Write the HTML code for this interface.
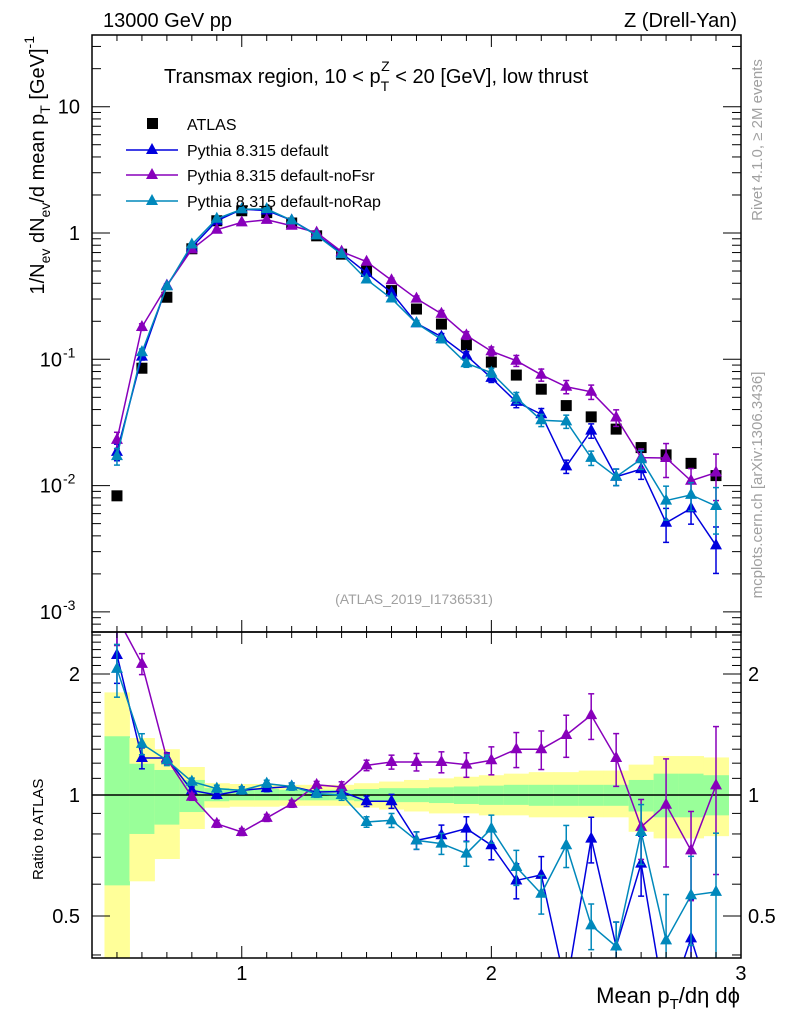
<!DOCTYPE html>
<html><head><meta charset="utf-8"><style>
html,body{margin:0;padding:0;background:#fff;width:786px;height:1024px;overflow:hidden;}
svg{display:block;font-family:"Liberation Sans",sans-serif;}
</style></head><body>
<svg id="chart" width="786" height="1024" viewBox="0 0 786 1024" xmlns="http://www.w3.org/2000/svg">
<defs>
<clipPath id="cm"><rect x="92" y="35" width="649" height="597"/></clipPath>
<clipPath id="cr"><rect x="92" y="632" width="649" height="326"/></clipPath>
</defs>
<g id="bands" clip-path="url(#cr)"></g>
<g id="main"></g>
<g id="ratio"></g>
<g id="axes"></g>
<text x="103" y="27" font-size="20">13000 GeV pp</text>
<text x="737" y="27" font-size="20" text-anchor="end">Z (Drell-Yan)</text>
<text x="164" y="83" font-size="20">Transmax region, 10 &lt; p<tspan font-size="14" dy="8">T</tspan><tspan font-size="14" dx="-8" dy="-20">Z</tspan><tspan dy="12"> &lt; 20 [GeV], low thrust</tspan></text>
<text x="414" y="604" font-size="14" fill="#a0a0a0" text-anchor="middle">(ATLAS_2019_I1736531)</text>
<text transform="translate(762,140) rotate(-90)" font-size="15" fill="#a0a0a0" text-anchor="middle">Rivet 4.1.0, ≥ 2M events</text>
<text transform="translate(762,485) rotate(-90)" font-size="15" fill="#a0a0a0" text-anchor="middle">mcplots.cern.ch [arXiv:1306.3436]</text>
<text transform="translate(44,36) rotate(-90)" font-size="20" text-anchor="end">1/N<tspan font-size="14" dy="6">ev</tspan><tspan dy="-6"> dN</tspan><tspan font-size="14" dy="6">ev</tspan><tspan dy="-6">/d mean p</tspan><tspan font-size="14" dy="6">T</tspan><tspan dy="-6"> [GeV]</tspan><tspan font-size="14" dy="-10">-1</tspan></text>
<text transform="translate(43,880) rotate(-90)" font-size="15">Ratio to ATLAS</text>
<text x="740" y="1003" font-size="22" text-anchor="end">Mean p<tspan font-size="15" dy="6">T</tspan><tspan dy="-6">/dη dϕ</tspan></text>
<g font-size="16">
<rect x="147" y="118" width="11" height="11" fill="#000"/>
<text x="187" y="130">ATLAS</text>
<g id="leg"></g>
</g>
</svg>
<script>
const xs=[0.5,0.6,0.7,0.8,0.9,1.0,1.1,1.2,1.3,1.4,1.5,1.6,1.7,1.8,1.9,2.0,2.1,2.2,2.3,2.4,2.5,2.6,2.7,2.8,2.9];
const atlas=[0.0083,0.085,0.31,0.75,1.25,1.5,1.45,1.2,0.95,0.68,0.5,0.35,0.25,0.19,0.13,0.095,0.075,0.058,0.043,0.035,0.028,0.020,0.0175,0.015,0.012];
const ratioDefault=[2.23,1.236,1.236,1.027,1.0,1.027,1.04,1.05,1.017,1.02,0.965,0.965,0.771,0.794,0.825,0.75,0.613,0.633,0.33,0.779,0.42,0.675,0.29,0.44,0.28];
const ratioNoFsr=[2.77,2.12,1.23,0.99,0.848,0.809,0.877,0.951,1.06,1.047,1.185,1.208,1.208,1.208,1.19,1.22,1.30,1.30,1.41,1.58,1.236,0.833,0.946,0.728,1.057];
const ratioNoRap=[2.06,1.34,1.22,1.08,1.037,1.027,1.067,1.05,1.007,1.0,0.857,0.865,0.771,0.757,0.715,0.825,0.662,0.568,0.75,0.474,0.42,0.809,0.435,0.563,0.574];
const relErr=[0.15,0.06,0.03,0.02,0.02,0.02,0.02,0.02,0.02,0.03,0.03,0.04,0.05,0.06,0.07,0.08,0.1,0.11,0.12,0.13,0.15,0.17,0.3,0.25,0.4];
const yellowUp=[1.8,1.386,1.30,1.174,1.07,1.065,1.065,1.06,1.06,1.06,1.07,1.08,1.09,1.1,1.11,1.12,1.13,1.14,1.14,1.15,1.15,1.19,1.25,1.25,1.24];
const yellowDn=[0.3,0.61,0.693,0.823,0.93,0.935,0.935,0.94,0.94,0.94,0.93,0.92,0.91,0.9,0.9,0.89,0.89,0.88,0.88,0.88,0.88,0.81,0.78,0.78,0.79];
const greenUp=[1.40,1.196,1.154,1.09,1.04,1.035,1.035,1.03,1.03,1.03,1.035,1.04,1.04,1.045,1.05,1.055,1.06,1.06,1.06,1.06,1.06,1.09,1.13,1.13,1.12];
const greenDn=[0.596,0.80,0.844,0.907,0.965,0.97,0.97,0.97,0.97,0.97,0.965,0.96,0.96,0.955,0.95,0.945,0.945,0.94,0.94,0.94,0.94,0.91,0.88,0.88,0.89];
const xTicks=[1,2,3];
const mainTicks=[{v:10,t:"10"},{v:1,t:"1"},{v:0.1,t:"10",e:"-1"},{v:0.01,t:"10",e:"-2"},{v:0.001,t:"10",e:"-3"}];
const ratioTicks=[{v:2,t:"2"},{v:1,t:"1"},{v:0.5,t:"0.5"}];

const NS="http://www.w3.org/2000/svg";
const X=x=>92+(x-0.4)*249.6;
const Y=v=>233-126.3*Math.log10(v);
const R=v=>795-402*Math.log10(v);
function mk(p,tag,at){const e=document.createElementNS(NS,tag);for(const k in at)e.setAttribute(k,at[k]);p.appendChild(e);return e;}
const main=document.getElementById('main'),ratio=document.getElementById('ratio'),bands=document.getElementById('bands'),axes=document.getElementById('axes');
main.setAttribute('clip-path','url(#cm)');ratio.setAttribute('clip-path','url(#cr)');

xs.forEach((x,i)=>{
 const y=mk(bands,'rect',{x:X(x-0.05),y:R(yellowUp[i]),width:X(x+0.05)-X(x-0.05)+0.5,height:R(yellowDn[i])-R(yellowUp[i]),fill:'#ffff99'});
 
 
 const g=mk(bands,'rect',{x:X(x-0.05),y:R(greenUp[i]),width:X(x+0.05)-X(x-0.05)+0.5,height:R(greenDn[i])-R(greenUp[i]),fill:'#99ff99'});
 
 
});
const one=mk(ratio,'line',{x1:92,x2:741,y1:R(1),y2:R(1),stroke:'#000','stroke-width':1.5});



xs.forEach((x,i)=>{
 const r=mk(main,'rect',{x:X(x)-5.5,y:Y(atlas[i])-5.5,width:11,height:11,fill:'#000'});
 
 
});
function tri(p,cx,cy,c){return mk(p,'polygon',{points:`${cx},${cy-7} ${cx-6},${cy+4} ${cx+6},${cy+4}`,fill:c});}
const series=[{r:ratioDefault,c:'#0000dd',n:'pythia-default',l:'Pythia 8.315 default',ly:150},
 {r:ratioNoFsr,c:'#8800bb',n:'pythia-nofsr',l:'Pythia 8.315 default-noFsr',ly:175},
 {r:ratioNoRap,c:'#0088bb',n:'pythia-norap',l:'Pythia 8.315 default-noRap',ly:201}];
const leg=document.getElementById('leg');
series.forEach(s=>{
 const vals=s.r.map((r,i)=>r*atlas[i]);
 const gm=mk(main,'g',{});
 
 
 mk(gm,'polyline',{points:xs.map((x,i)=>X(x)+','+Y(vals[i])).join(' '),fill:'none',stroke:s.c,'stroke-width':1.5});
 const gr=mk(ratio,'g',{});
 
 
 mk(gr,'polyline',{points:xs.map((x,i)=>X(x)+','+R(s.r[i])).join(' '),fill:'none',stroke:s.c,'stroke-width':1.5});
 xs.forEach((x,i)=>{
  const e=relErr[i];
  [[gm,Y,vals[i]],[gr,R,s.r[i]]].forEach(([g,F,v])=>{
   const a=F(v*(1+e)),b=F(Math.max(v*(1-e),1e-4));
   mk(g,'line',{x1:X(x),x2:X(x),y1:a,y2:b,stroke:s.c,'stroke-width':1.5});
   mk(g,'line',{x1:X(x)-3,x2:X(x)+3,y1:a,y2:a,stroke:s.c,'stroke-width':1.5});
   mk(g,'line',{x1:X(x)-3,x2:X(x)+3,y1:b,y2:b,stroke:s.c,'stroke-width':1.5});
   const t=tri(g,X(x),F(v),s.c);
   
   
  });
 });
 const lg=mk(leg,'g',{});
 
 
 mk(lg,'line',{x1:126,x2:178,y1:s.ly,y2:s.ly,stroke:s.c,'stroke-width':1.5});
 tri(lg,152,s.ly,s.c);
 const tx=mk(lg,'text',{x:187,y:s.ly+6,'font-size':16});tx.textContent=s.l;
});

[[35,632],[632,958]].forEach(([t,b])=>mk(axes,'rect',{x:92,y:t,width:649,height:b-t,fill:'none',stroke:'#000','stroke-width':1.5}));
for(let k=5;k<=29;k++){const x=X(k/10),L=(k%10==0)?12:6;
 [[35,1],[632,-1],[632,1],[958,-1]].forEach(([y,d])=>mk(axes,'line',{x1:x,x2:x,y1:y,y2:y+d*L,stroke:'#000','stroke-width':1}));}
xTicks.forEach(v=>{const t=mk(axes,'text',{x:X(v),y:980,'font-size':20,'text-anchor':'middle'});t.textContent=v;});
for(let d=-4;d<=1;d++)for(let m=1;m<=9;m++){const v=m*Math.pow(10,d),y=Y(v);if(y<36||y>631)continue;const L=m==1?18:9;
 mk(axes,'line',{x1:92,x2:92+L,y1:y,y2:y,stroke:'#000'});mk(axes,'line',{x1:741,x2:741-L,y1:y,y2:y,stroke:'#000'});}
mainTicks.forEach(o=>{const t=mk(axes,'text',{x:o.e?62:80,y:Y(o.v)+7,'font-size':20,'text-anchor':'end'});t.textContent=o.t;
 if(o.e){const s=mk(axes,'text',{x:63,y:Y(o.v)-2,'font-size':14});s.textContent=o.e;}});
for(let k=4;k<=25;k++){const v=k/10,y=R(v);if(y<633||y>957)continue;const L=(k==5||k==10||k==20)?18:9;
 mk(axes,'line',{x1:92,x2:92+L,y1:y,y2:y,stroke:'#000'});mk(axes,'line',{x1:741,x2:741-L,y1:y,y2:y,stroke:'#000'});}
ratioTicks.forEach(o=>{const t=mk(axes,'text',{x:80,y:R(o.v)+7,'font-size':20,'text-anchor':'end'});t.textContent=o.t;
 const t2=mk(axes,'text',{x:748,y:R(o.v)+7,'font-size':20});t2.textContent=o.t;});
</script>
</body></html>
